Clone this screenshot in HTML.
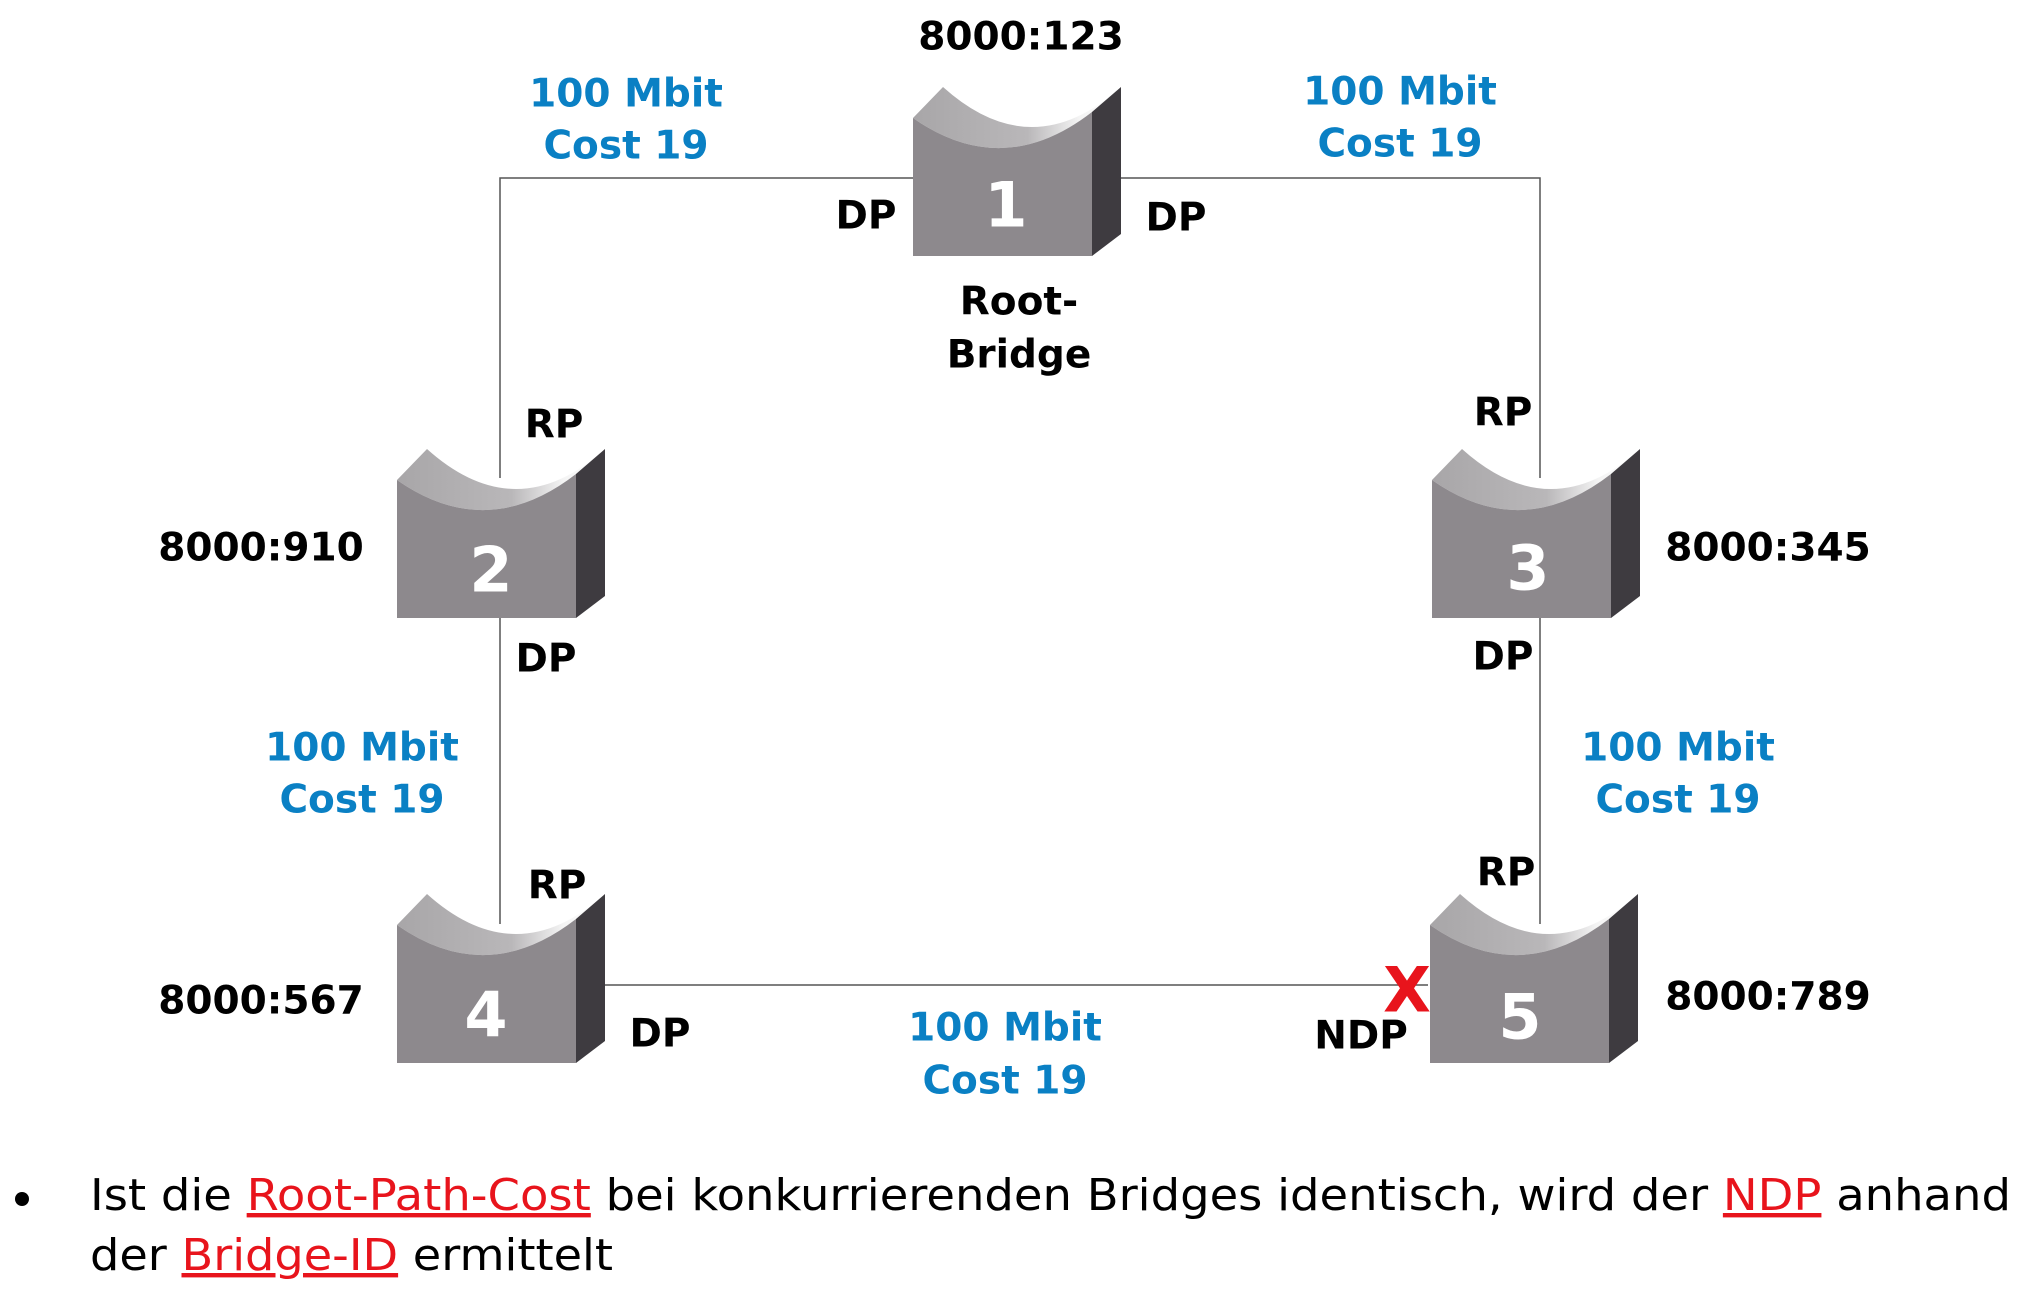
<!DOCTYPE html>
<html><head><meta charset="utf-8"><style>
html,body{margin:0;padding:0;background:#fff;}
svg{display:block;}
.b{font-family:"DejaVu Sans","Liberation Sans",sans-serif;font-weight:bold;font-size:39px;fill:#000;}
.bl{font-family:"DejaVu Sans","Liberation Sans",sans-serif;font-weight:bold;font-size:39px;fill:#0a80c4;}
.n{font-family:"DejaVu Sans","Liberation Sans",sans-serif;font-weight:bold;font-size:62px;fill:#fff;}
.t{font-family:"DejaVu Sans","Liberation Sans",sans-serif;font-size:44px;fill:#000;}
.r{fill:#e8141c;}
</style></head><body>
<svg width="2041" height="1293" viewBox="0 0 2041 1293" xmlns="http://www.w3.org/2000/svg">
<defs>
<linearGradient id="tg" x1="0" y1="0" x2="1" y2="0">
<stop offset="0" stop-color="#a8a6a8"/><stop offset="0.55" stop-color="#b9b7b9"/><stop offset="0.8" stop-color="#f4f4f4"/><stop offset="1" stop-color="#ffffff"/>
</linearGradient>
<g id="box">
<path d="M0,0 L30,-31 Q119,49 208,-31 L179,-6 Q90,63 0,0 Z" fill="url(#tg)"/>
<path d="M0,0 Q90,63 179,-6 L179,138 L0,138 Z" fill="#8d898d"/>
<path d="M179,-6 L208,-31 L208,116 L179,138 Z" fill="#3e3b40"/>
</g>
</defs>
<g stroke="#555" stroke-width="1.5" fill="none">
<path d="M500,478 L500,178 L913,178"/>
<path d="M1121,178 L1540,178 L1540,478"/>
<path d="M500,618 L500,924"/>
<path d="M1540,618 L1540,924"/>
<path d="M605,985 L1428,985"/>
</g>
<use href="#box" x="913" y="118"/>
<use href="#box" x="397" y="480"/>
<use href="#box" x="1432" y="480"/>
<use href="#box" x="397" y="925"/>
<use href="#box" x="1430" y="925"/>
<g dominant-baseline="central" text-anchor="middle">
<text class="n" x="1006" y="205">1</text>
<text class="n" x="491" y="570">2</text>
<text class="n" x="1528" y="568">3</text>
<text class="n" x="486" y="1015">4</text>
<text class="n" x="1520" y="1017">5</text>

<text class="b" x="1021" y="37">8000:123</text>
<text class="b" x="866" y="216">DP</text>
<text class="b" x="1176" y="218">DP</text>
<text class="b" x="1019" y="302">Root-</text>
<text class="b" x="1019" y="355">Bridge</text>
<text class="b" x="554" y="425">RP</text>
<text class="b" x="261" y="548">8000:910</text>
<text class="b" x="546" y="659">DP</text>
<text class="b" x="1503" y="413">RP</text>
<text class="b" x="1768" y="548">8000:345</text>
<text class="b" x="1503" y="657">DP</text>
<text class="b" x="557" y="886">RP</text>
<text class="b" x="261" y="1001">8000:567</text>
<text class="b" x="660" y="1034">DP</text>
<text class="b" x="1506" y="873">RP</text>
<text class="b" x="1768" y="997">8000:789</text>
<text class="b" x="1361" y="1036">NDP</text>
<text class="b r" x="1407" y="990" style="font-size:62px">X</text>

<text class="bl" x="626" y="94">100 Mbit</text>
<text class="bl" x="626" y="146">Cost 19</text>
<text class="bl" x="1400" y="92">100 Mbit</text>
<text class="bl" x="1400" y="144">Cost 19</text>
<text class="bl" x="362" y="748">100 Mbit</text>
<text class="bl" x="362" y="800">Cost 19</text>
<text class="bl" x="1678" y="748">100 Mbit</text>
<text class="bl" x="1678" y="800">Cost 19</text>
<text class="bl" x="1005" y="1028">100 Mbit</text>
<text class="bl" x="1005" y="1081">Cost 19</text>
</g>
<circle cx="22" cy="1199" r="7" fill="#000"/>
<text class="t" x="90" y="1210" textLength="1921" lengthAdjust="spacingAndGlyphs">Ist die <tspan class="r" text-decoration="underline">Root-Path-Cost</tspan> bei konkurrierenden Bridges identisch, wird der <tspan class="r" text-decoration="underline">NDP</tspan> anhand</text>
<text class="t" x="90" y="1270" textLength="523" lengthAdjust="spacingAndGlyphs">der <tspan class="r" text-decoration="underline">Bridge-ID</tspan> ermittelt</text>
</svg>
</body></html>
